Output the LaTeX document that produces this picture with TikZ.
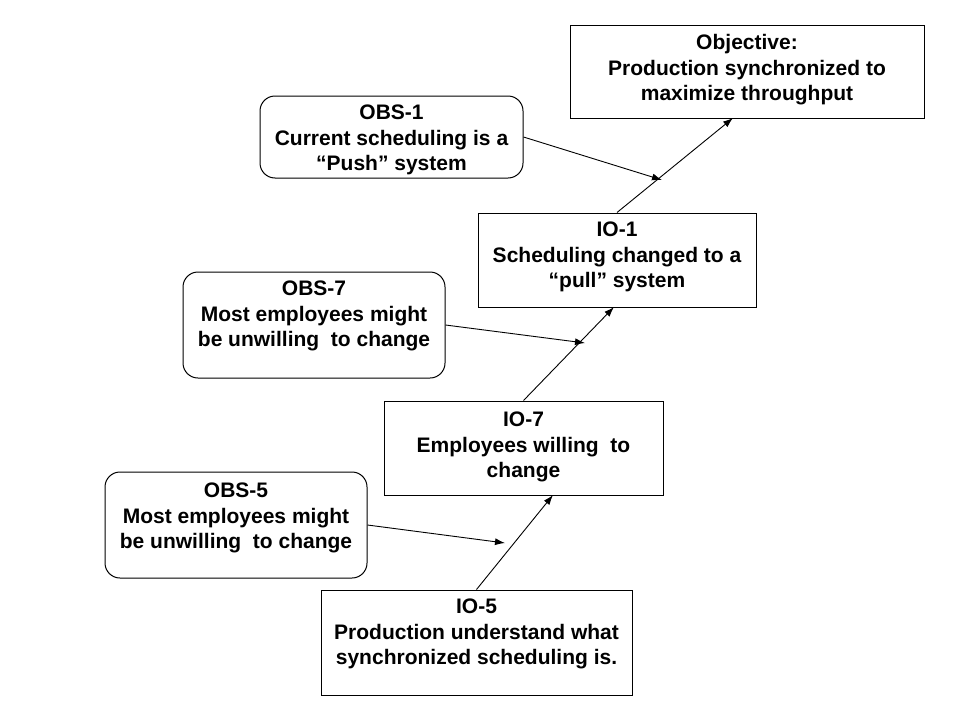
\documentclass[tikz,border=0pt]{standalone}
\usepackage{fontspec}
\setmainfont{Liberation Sans}
\usetikzlibrary{arrows.meta}
\tikzset{
  box/.style={draw=black, line width=1pt, fill=white, inner sep=0pt},
  rbox/.style={box, rounded corners=15pt},
  txt/.style={align=center, font=\fontsize{21}{25.5}\selectfont\bfseries, inner sep=0pt},
  arr/.style={line width=0.9pt, -{Latex[length=10pt,width=7pt]}}
}
\begin{document}
\begin{tikzpicture}[x=1pt,y=-1pt]
\useasboundingbox (0,0) rectangle (960,720);
% boxes
\node[box, minimum width=354pt, minimum height=93pt] (obj) at (747,71.5) {};
\node[rbox, minimum width=263pt, minimum height=82pt] (obs1) at (391.5,137) {};
\node[box, minimum width=278pt, minimum height=94pt] (io1) at (617,260) {};
\node[rbox, minimum width=262pt, minimum height=106pt] (obs7) at (314,325) {};
\node[box, minimum width=279pt, minimum height=94pt] (io7) at (523.5,448) {};
\node[rbox, minimum width=262pt, minimum height=106pt] (obs5) at (236,525) {};
\node[box, minimum width=311pt, minimum height=105pt] (io5) at (476.5,642.5) {};
% texts
\node[txt] (objt) at (747,70) {Objective:\\Production synchronized to\\maximize throughput};
\node[txt] (obs1t) at (391.5,140) {OBS-1\\Current scheduling is a\\``Push'' system};
\node[txt] (io1t) at (617,257) {IO-1\\Scheduling changed to a\\``pull'' system};
\node[txt] (obs7t) at (314,316) {OBS-7\\Most employees might\\be unwilling\ \ to change};
\node[txt] (io7t) at (523.5,447) {IO-7\\Employees willing\ \ to\\change};
\node[txt] (obs5t) at (236,518) {OBS-5\\Most employees might\\be unwilling\ \ to change};
\node[txt] (io5t) at (476.5,634) {IO-5\\Production understand what\\synchronized scheduling is.};
% targets
\coordinate (tobj) at (733,118);
\coordinate (tio1) at (614,307);
\coordinate (tio7) at (553,495);
\coordinate (m1) at (662,180);
\coordinate (m7) at (585,343);
\coordinate (m5) at (505,543);
% arrows
\draw[arr] (io5.north) -- (tio7);
\draw[arr] (io7.north) -- (tio1);
\draw[arr] (io1.north) -- (tobj);
\draw[arr] (obs1.east) -- (m1);
\draw[arr] (obs7.east) -- (m7);
\draw[arr] (obs5.east) -- (m5);
\end{tikzpicture}
\end{document}
